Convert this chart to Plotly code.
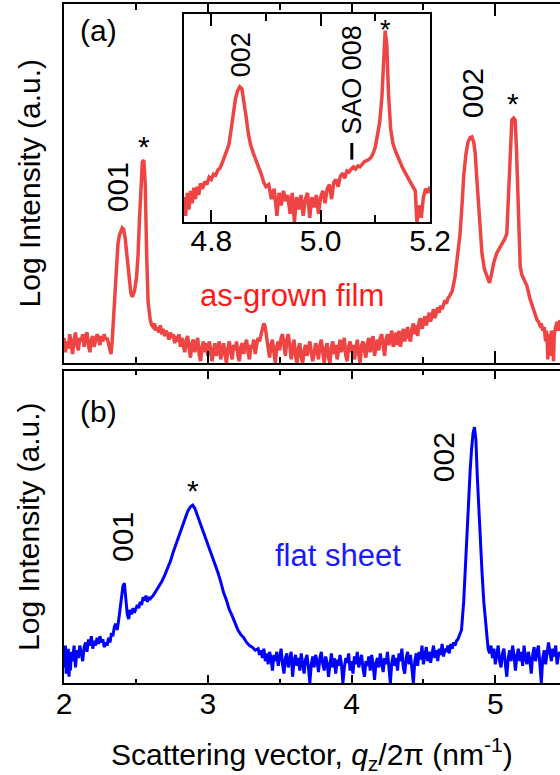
import plotly.graph_objects as go

# ---------------- panel (a): as-grown film (log intensity, arb. units) -------------
xa = [2.00, 2.01, 2.02, 2.03, 2.04, 2.05, 2.06, 2.07, 2.08, 2.09,
      2.10, 2.11, 2.12, 2.13, 2.14, 2.15, 2.16, 2.17, 2.18, 2.19,
      2.20, 2.21, 2.22, 2.23, 2.24, 2.25, 2.26, 2.27, 2.28, 2.29,
      2.30, 2.31, 2.320, 2.327, 2.335, 2.345, 2.355, 2.365, 2.375, 2.385,
      2.395, 2.405, 2.415, 2.425, 2.435, 2.445, 2.455, 2.465, 2.475, 2.49,
      2.505, 2.515, 2.525, 2.535, 2.545, 2.555, 2.565, 2.575, 2.585, 2.60,
      2.61, 2.62, 2.63, 2.64, 2.65, 2.66, 2.67, 2.68, 2.69, 2.70,
      2.71, 2.72, 2.73, 2.74, 2.75, 2.76, 2.77, 2.78, 2.79, 2.80,
      2.81, 2.82, 2.83, 2.84, 2.85, 2.86, 2.87, 2.88, 2.89, 2.90,
      2.91, 2.92, 2.93, 2.94, 2.95, 2.96, 2.97, 2.98, 2.99, 3.00,
      3.01, 3.02, 3.03, 3.04, 3.05, 3.06, 3.07, 3.08, 3.09, 3.10,
      3.11, 3.12, 3.13, 3.14, 3.15, 3.16, 3.17, 3.18, 3.19, 3.20,
      3.21, 3.22, 3.23, 3.24, 3.25, 3.26, 3.27, 3.28, 3.29, 3.30,
      3.31, 3.32, 3.33, 3.34, 3.35, 3.36, 3.37, 3.38, 3.39, 3.40,
      3.41, 3.42, 3.43, 3.44, 3.45, 3.46, 3.47, 3.48, 3.49, 3.50,
      3.51, 3.52, 3.53, 3.54, 3.55, 3.56, 3.57, 3.58, 3.59, 3.60,
      3.61, 3.62, 3.63, 3.64, 3.65, 3.66, 3.67, 3.68, 3.69, 3.70,
      3.71, 3.72, 3.73, 3.74, 3.75, 3.76, 3.77, 3.78, 3.79, 3.80,
      3.81, 3.82, 3.83, 3.84, 3.85, 3.86, 3.87, 3.88, 3.89, 3.90,
      3.91, 3.92, 3.93, 3.94, 3.95, 3.96, 3.97, 3.98, 3.99, 4.00,
      4.01, 4.02, 4.03, 4.04, 4.05, 4.06, 4.07, 4.08, 4.09, 4.10,
      4.11, 4.12, 4.13, 4.14, 4.15, 4.16, 4.17, 4.18, 4.19, 4.20,
      4.21, 4.22, 4.23, 4.24, 4.25, 4.26, 4.27, 4.28, 4.29, 4.30,
      4.31, 4.32, 4.33, 4.34, 4.35, 4.36, 4.37, 4.38, 4.39, 4.40,
      4.41, 4.42, 4.43, 4.44, 4.45, 4.46, 4.47, 4.48, 4.49, 4.50,
      4.51, 4.52, 4.53, 4.54, 4.55, 4.56, 4.57, 4.58, 4.59, 4.60,
      4.61, 4.62, 4.63, 4.64, 4.65, 4.66, 4.67, 4.68, 4.69, 4.70,
      4.72, 4.74, 4.755, 4.77, 4.78, 4.795, 4.81, 4.825, 4.837, 4.85,
      4.86, 4.872, 4.884, 4.895, 4.907, 4.925, 4.941, 4.96, 4.975, 4.99,
      5.01, 5.03, 5.046, 5.065, 5.08, 5.09, 5.10, 5.108, 5.115, 5.127,
      5.138, 5.147, 5.155, 5.164, 5.173, 5.185, 5.20, 5.22, 5.24, 5.265,
      5.29, 5.30, 5.31, 5.32, 5.33, 5.34, 5.35, 5.355, 5.36, 5.365,
      5.37, 5.38, 5.385, 5.39, 5.40, 5.405, 5.41, 5.42, 5.43, 5.44,
      5.45]
ya = [7, 3, 6, 4, 8, 5, 2.5, 6.5, 8.5, 5,
      3.5, 7, 6, 8, 4.5, 7.5, 8.5, 5, 3, 6.5,
      7.5, 4.5, 6, 8, 7, 5, 7.5, 6, 8, 6.5,
      7, 5.5, 4, 2.5, 6, 13, 22, 29, 33, 35.5,
      37, 37.6, 37.2, 35, 31, 26.5, 22, 19.5, 18.4, 20,
      24, 30, 40, 50, 56, 56.5, 50, 30, 17, 12,
      10.5, 10, 11, 9, 10, 8.5, 10.5, 8, 9.5, 7.5,
      9, 8, 6.5, 8.5, 7, 8, 5.5, 7.5, 6, 8,
      4.5, 7, 5, 3, 6.5, 7.5, 4, 1.5, 5.5, 6.5,
      3, 5, 7, 2.5, 0.5, 4.5, 6, 3, 5.5, 2,
      6, 4, 0.5, 3.5, 5.5, 2, 4.5, 6, 1, 4,
      5.5, 2.5, 0, 4, 6, 3, 1, 5, 3.5, 6,
      2, 0.5, 4.5, 5.5, 2.5, 5, 6.5, 3, 1, 5,
      4, 6.5, 2.5, 5, 7, 6, 8.5, 9.5, 11, 10,
      7, 4, 1.5, 5, 6.5, 3, 0, 4.5, 6, 3.5,
      7, 8, 4, 2, 6.5, 8, 5, 1, 4.5, 6.5,
      2, 0, 4, 5.5, 1.5, 0, 3.5, 5, 2, 4,
      6, 3, 0.5, 2.5, 5.5, 4, 1, 5, 6.5, 3,
      0, 4, 5.5, 1.5, 0, 4.5, 6, 2.5, 5, 1,
      4.5, 6.5, 3, 5.5, 7, 2, 0.5, 4.5, 6, 3,
      5, 1, 4, 6.5, 2.5, 0, 5, 6, 3.5, 1.5,
      5.5, 7, 3, 5, 7.5, 2, 4.5, 6.5, 3.5, 7,
      8, 4, 2, 6.5, 8, 5, 7.5, 9, 4.5, 6,
      8.5, 5, 9, 4.5, 7, 9.5, 6, 8, 10, 7,
      6, 9.5, 11, 8, 10.5, 7.5, 11.5, 12.5, 9.5, 11,
      13, 10.5, 12, 14, 11.5, 13.5, 15, 12.5, 14, 15.5,
      14, 16, 15, 16.5, 17.5, 16.5, 18, 18.5, 19.5, 20,
      24, 30, 36, 45, 52, 58, 61.5, 62.8, 63, 61.5,
      58.5, 51, 43.5, 36, 30.6, 26, 24, 22.3, 25, 28,
      30.6, 32, 33, 34.5, 36, 44, 54.6, 62, 67.7, 68.2,
      67.7, 60, 50, 37, 27, 24.5, 23, 21.5, 18, 14.8,
      12, 11.5, 10.5, 11, 9, 10, 6, 9, 7.5, 1,
      8, 6.5, 2, 9, 7, 0.5, 8, 10, 11.5, 9,
      12]

# ---------------- panel (b): flat sheet ------------------------------------------
xb = [2.000, 2.005, 2.010, 2.015, 2.020, 2.025, 2.030, 2.035, 2.040, 2.045,
      2.05, 2.06, 2.07, 2.08, 2.09, 2.10, 2.11, 2.12, 2.13, 2.14,
      2.15, 2.16, 2.17, 2.18, 2.19, 2.20, 2.21, 2.22, 2.23, 2.24,
      2.25, 2.26, 2.27, 2.28, 2.29, 2.30, 2.31, 2.32, 2.33, 2.34,
      2.35, 2.36, 2.37, 2.38, 2.39, 2.40, 2.41, 2.42, 2.425, 2.43,
      2.44, 2.45, 2.46, 2.47, 2.48, 2.49, 2.50, 2.51, 2.52, 2.53,
      2.54, 2.55, 2.56, 2.57, 2.58, 2.59, 2.60, 2.62, 2.64, 2.66,
      2.68, 2.70, 2.72, 2.74, 2.76, 2.78, 2.80, 2.82, 2.84, 2.86,
      2.88, 2.895, 2.91, 2.93, 2.95, 2.97, 2.99, 3.01, 3.03, 3.05,
      3.07, 3.09, 3.11, 3.13, 3.15, 3.17, 3.19, 3.21, 3.23, 3.25,
      3.27, 3.29, 3.31, 3.33, 3.35, 3.36, 3.37, 3.38, 3.39, 3.40,
      3.41, 3.42, 3.43, 3.44, 3.45, 3.46, 3.47, 3.48, 3.49, 3.50,
      3.51, 3.52, 3.53, 3.54, 3.55, 3.56, 3.57, 3.58, 3.59, 3.60,
      3.61, 3.62, 3.63, 3.64, 3.65, 3.66, 3.67, 3.68, 3.69, 3.70,
      3.71, 3.72, 3.73, 3.74, 3.75, 3.76, 3.77, 3.78, 3.79, 3.80,
      3.81, 3.82, 3.83, 3.84, 3.85, 3.86, 3.87, 3.88, 3.89, 3.90,
      3.91, 3.92, 3.93, 3.94, 3.95, 3.96, 3.97, 3.98, 3.99, 4.00,
      4.01, 4.02, 4.03, 4.04, 4.05, 4.06, 4.07, 4.08, 4.09, 4.10,
      4.11, 4.12, 4.13, 4.14, 4.15, 4.16, 4.17, 4.18, 4.19, 4.20,
      4.21, 4.22, 4.23, 4.24, 4.25, 4.26, 4.27, 4.28, 4.29, 4.30,
      4.31, 4.32, 4.33, 4.34, 4.35, 4.36, 4.37, 4.38, 4.39, 4.40,
      4.41, 4.42, 4.43, 4.44, 4.45, 4.46, 4.47, 4.48, 4.49, 4.50,
      4.51, 4.52, 4.53, 4.54, 4.55, 4.56, 4.57, 4.58, 4.59, 4.60,
      4.61, 4.62, 4.63, 4.64, 4.65, 4.66, 4.67, 4.68, 4.69, 4.70,
      4.71, 4.72, 4.73, 4.74, 4.75, 4.765, 4.78, 4.79, 4.80, 4.81,
      4.825, 4.835, 4.845, 4.855, 4.865, 4.875, 4.885, 4.895, 4.907, 4.92,
      4.935, 4.95, 4.96, 4.97, 4.98, 4.99, 5.00, 5.01, 5.02, 5.03,
      5.04, 5.05, 5.06, 5.07, 5.08, 5.09, 5.10, 5.11, 5.12, 5.13,
      5.14, 5.15, 5.16, 5.17, 5.18, 5.19, 5.20, 5.21, 5.22, 5.23,
      5.24, 5.25, 5.26, 5.27, 5.28, 5.29, 5.30, 5.31, 5.32, 5.33,
      5.34, 5.35, 5.36, 5.37, 5.38, 5.39, 5.40, 5.41, 5.42, 5.43,
      5.44, 5.45]
yb = [10, 5, 12, 3, 9, 6, 11, 2, 8, 4,
      10, 7, 12, 5, 10.5, 8, 12, 9.5, 7, 11.5,
      13, 10, 14, 12, 15, 11, 13.5, 12, 14.5, 12.5,
      15, 13, 14, 11.5, 13, 12, 14.5, 13, 16, 15,
      18, 19, 17, 20, 24, 28, 31, 32, 30, 27,
      22, 20.5, 23.5, 22, 24, 22.5, 23.5, 25, 24, 26,
      25, 27.5, 26.5, 28, 26, 27.5, 27, 28, 29.5, 31,
      32.5, 34.5, 36.5, 39, 42, 44.5, 47, 50, 52.5, 55,
      56.5, 57, 56, 53.5, 51, 48.5, 46, 43.5, 40.5, 38.5,
      35.5, 32.5, 29, 26.5, 23.5, 21.5, 19, 17, 15.5, 14.5,
      13, 12, 11.5, 10.5, 11, 9, 10.5, 8, 11, 7,
      9.5, 6, 10, 8, 4, 9, 7, 10, 5.5, 8.5,
      11, 6, 3, 8, 9.5, 5, 7.5, 10, 2, 7,
      9, 5.5, 8, 4, 9.5, 6, 3, 7.5, 9, 5,
      0, 6, 8.5, 5, 9, 7, 3.5, 8, 10, 6,
      4, 8.5, 6.5, 2, 7, 9.5, 5, 8, 3, 7.5,
      5.5, 9, 6, 0, 5, 8, 6.5, 9.5, 4, 7,
      3, 8.5, 6, 10, 5, 7.5, 9, 4.5, 2, 7,
      5.5, 8.5, 4, 9, 6, 1, 6.5, 8, 5, 9.5,
      7, 3.5, 8, 6, 10, 5, 0, 6.5, 9, 5.5,
      8, 4, 9.5, 7, 11, 5, 3, 8, 10, 6,
      9, 4.5, 0, 7, 9.5, 5.5, 10, 7.5, 12, 6,
      9, 11.5, 7, 10, 6.5, 9.5, 12, 8, 10.5, 7,
      11, 9, 12.5, 8.5, 11, 10, 12, 9.5, 12.5, 11,
      13, 12, 13.5, 14, 15, 17, 26, 36, 45, 55,
      68, 75, 80, 82, 78, 66, 55, 45, 36, 26,
      17, 11, 9.5, 12, 8, 11, 6, 10, 12, 7,
      5, 9.5, 11, 6, 2, 8, 10.5, 7, 12, 9,
      4, 8.5, 11, 7, 10, 5.5, 12, 8, 6, 10,
      7.5, 3, 9, 11.5, 7, 10, 12, 6, 0, 8,
      10.5, 6, 9, 13, 10, 7, 11, 8.5, 12, 6,
      9, 10]

# ---------------- inset of panel (a) ---------------------------------------------
xi = [4.750, 4.753, 4.756, 4.759, 4.762, 4.765, 4.768, 4.771, 4.774, 4.777, 4.780, 4.784, 4.788,
      4.792, 4.796, 4.800, 4.804, 4.808, 4.812, 4.816, 4.820, 4.824, 4.828, 4.832, 4.836, 4.840,
      4.844, 4.848, 4.852, 4.856, 4.860, 4.864, 4.868, 4.872, 4.877, 4.882, 4.887, 4.892, 4.896,
      4.900, 4.905, 4.910, 4.915, 4.920, 4.924, 4.928, 4.932, 4.936, 4.940, 4.944, 4.948, 4.952,
      4.956, 4.960, 4.964, 4.968, 4.972, 4.976, 4.980, 4.984, 4.988, 4.992, 4.996, 5.000, 5.004,
      5.008, 5.012, 5.016, 5.020, 5.024, 5.028, 5.032, 5.036, 5.040, 5.044, 5.048, 5.052, 5.056,
      5.060, 5.064, 5.068, 5.072, 5.076, 5.080, 5.084, 5.088, 5.092, 5.096, 5.100, 5.104, 5.108,
      5.112, 5.115, 5.118, 5.121, 5.124, 5.128, 5.132, 5.137, 5.143, 5.150, 5.156, 5.162, 5.168,
      5.173, 5.176, 5.180, 5.184, 5.188, 5.192, 5.196, 5.200]
yi = [12, 3, 14, 6, 15, 9, 16.5, 11, 17, 13, 18.5, 16, 19.5,
      18, 21.5, 20.5, 23, 22.5, 25, 26, 28.5, 31, 34, 37, 44, 53,
      59, 63, 65, 64, 58, 50, 42, 37, 33, 30, 26, 22.5, 19,
      17, 18, 11, 16, 3, 14, 8, 15, 10, 13, 4, 14, 0,
      12, 6, 13, 3, 11, 14, 2, 12, 7, 13, 4, 12, 15,
      9, 16, 18, 11, 19, 20.5, 17, 22, 23.5, 21, 24.5, 24, 25.5,
      26.5, 25.5, 27, 26.5, 28, 29, 29.5, 30, 31, 33, 36, 41, 48,
      60, 78, 92, 85, 62, 45, 38, 34, 30, 26, 23, 20, 17.5,
      15, 0, 8, 2, 12, 16, 14, 17]

# SAO 008 position marker in the inset
sao_x = [5.057, 5.057]
sao_y = [30, 38]

# tick labels
main_ticks = [2, 3, 4, 5]
main_ticktext = ["2", "3", "4", "5"]
inset_ticks = [4.8, 5.0, 5.2]
inset_ticktext = ["4.8", "5.0", "5.2"]

RED = "#ef4444"
BLUE = "#0000ff"
FONT = "Liberation Sans, Arial, sans-serif"

fig = go.Figure()
fig.add_trace(go.Scatter(x=xa, y=ya, xaxis="x", yaxis="y", mode="lines",
                         line=dict(color=RED, width=3.5), showlegend=False))
fig.add_trace(go.Scatter(x=xb, y=yb, xaxis="x2", yaxis="y2", mode="lines",
                         line=dict(color=BLUE, width=3), showlegend=False))
fig.add_trace(go.Scatter(x=xi, y=yi, xaxis="x3", yaxis="y3", mode="lines",
                         line=dict(color=RED, width=3.5), showlegend=False))
fig.add_trace(go.Scatter(x=sao_x, y=sao_y, xaxis="x3", yaxis="y3", mode="lines",
                         line=dict(color="black", width=3), showlegend=False))

common_x = dict(range=[2, 5.45], showgrid=False, zeroline=False, showline=True,
                linecolor="black", linewidth=2, mirror="ticks", ticks="inside",
                tickcolor="black", tickwidth=2, tickvals=main_ticks, ticktext=main_ticktext,
                automargin=False)
common_y = dict(range=[0, 100], showgrid=False, zeroline=False, showline=True,
                linecolor="black", linewidth=2, mirror=False, ticks="",
                showticklabels=False, automargin=False)

fig.update_layout(
    width=560, height=775,
    margin=dict(l=64, r=0, t=4, b=92),
    paper_bgcolor="white", plot_bgcolor="white",
    font=dict(family=FONT, size=30, color="black"),
    xaxis=dict(**common_x, anchor="y", domain=[0, 1], showticklabels=False, ticklen=12,
               minor=dict(dtick=0.5, tick0=2, ticklen=6, ticks="inside", tickcolor="black", tickwidth=2)),
    yaxis=dict(**common_y, anchor="x", domain=[0.4713, 1.0]),
    xaxis2=dict(**common_x, anchor="y2", domain=[0, 1], showticklabels=True, ticklen=8,
                tickfont=dict(size=30), ticklabelstandoff=-7,
                minor=dict(dtick=0.5, tick0=2, ticklen=4, ticks="inside", tickcolor="black", tickwidth=2)),
    yaxis2=dict(**common_y, anchor="x2", domain=[0, 0.4595]),
    xaxis3=dict(range=[4.75, 5.2], domain=[0.2419, 0.7379], anchor="y3", showgrid=False,
                zeroline=False, showline=True, linecolor="black", linewidth=2, mirror="ticks",
                ticks="inside", tickcolor="black", tickwidth=2, ticklen=12,
                tickvals=inset_ticks, ticktext=inset_ticktext, tickfont=dict(size=30),
                ticklabelstandoff=-9,
                minor=dict(dtick=0.1, tick0=4.8, ticklen=7, ticks="inside", tickcolor="black", tickwidth=2),
                automargin=False),
    yaxis3=dict(range=[0, 100], domain=[0.6789, 0.9853], anchor="x3", showgrid=False,
                zeroline=False, showline=True, linecolor="black", linewidth=2, mirror=True,
                ticks="", showticklabels=False, automargin=False),
)

ann = []
def txt(x, y, s, xref, yref, size=30, color="black", angle=0):
    ann.append(dict(x=x, y=y, xref=xref, yref=yref, text=s, showarrow=False, textangle=angle,
                    xanchor="center", yanchor="middle", font=dict(size=size, color=color, family=FONT)))

# panel (a)
txt(2.237, 92.7, "(a)", "x", "y")
txt(2.369, 49, "001", "x", "y", angle=-90)
txt(2.555, 60.2, "*", "x", "y")
txt(3.583, 18.7, "as-grown film", "x", "y", size=31, color="#ff1a1a")
txt(4.839, 75.2, "002", "x", "y", angle=-90)
txt(5.125, 72.3, "*", "x", "y")
# inset
txt(4.855, 80.3, "002", "x3", "y3", size=27, angle=-90)
txt(5.057, 68.3, "SAO 008", "x3", "y3", size=27, angle=-90)
txt(5.119, 92.4, "*", "x3", "y3", size=27)
# panel (b)
txt(2.237, 86.9, "(b)", "x2", "y2")
txt(2.41, 46.8, "001", "x2", "y2", angle=-90)
txt(2.895, 61.7, "*", "x2", "y2")
txt(3.903, 41, "flat sheet", "x2", "y2", size=31, color="#1a1aff")
txt(4.637, 72.4, "002", "x2", "y2", angle=-90)

# axis titles
ann.append(dict(x=0, y=0.7357, xref="paper", yref="paper", xshift=-35, text="Log Intensity (a.u.)",
                textangle=-90, showarrow=False, xanchor="center", yanchor="middle",
                font=dict(size=30, family=FONT)))
ann.append(dict(x=0, y=0.2298, xref="paper", yref="paper", xshift=-35, text="Log Intensity (a.u.)",
                textangle=-90, showarrow=False, xanchor="center", yanchor="middle",
                font=dict(size=30, family=FONT)))
ann.append(dict(x=0.5, y=0, xref="paper", yref="paper", yshift=-71,
                text="Scattering vector, <i>q</i><sub>z</sub>/2π (nm<sup>-1</sup>)",
                showarrow=False, xanchor="center", yanchor="middle", font=dict(size=30, family=FONT)))
fig.update_layout(annotations=ann)

fig.write_html("out.html", config={"displayModeBar": False},
               post_script="document.body.style.margin='0';document.body.style.overflow='hidden';")
